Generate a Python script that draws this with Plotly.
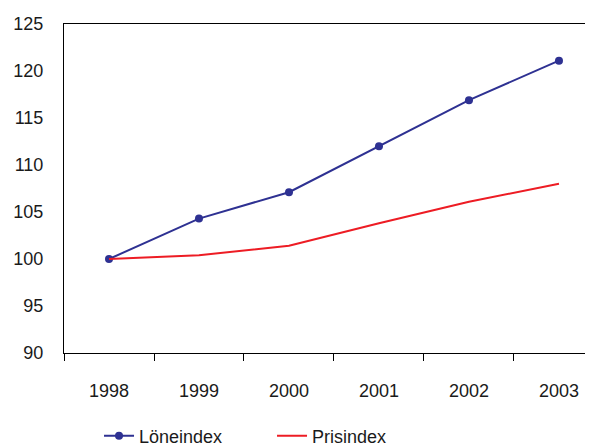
import plotly.graph_objects as go

years = ["1998", "1999", "2000", "2001", "2002", "2003"]
loneindex = [100, 104.3, 107.1, 112.0, 116.9, 121.1]
prisindex = [100, 100.4, 101.4, 103.8, 106.1, 108.0]
y_ticks = [90, 95, 100, 105, 110, 115, 120, 125]

FONT = "Liberation Sans, Arial, sans-serif"

fig = go.Figure()
fig.add_trace(go.Scatter(
    x=years, y=loneindex, name="Löneindex", mode="lines+markers",
    line=dict(color="#2E3192", width=2),
    marker=dict(color="#2E3192", size=8),
))
fig.add_trace(go.Scatter(
    x=years, y=prisindex, name="Prisindex", mode="lines",
    line=dict(color="#ED1C24", width=2),
))

fig.update_layout(
    width=585, height=438,
    margin=dict(l=56, r=0, t=16, b=93),
    paper_bgcolor="white", plot_bgcolor="white",
    font=dict(family=FONT, size=18, color="#1a1a1a"),
    showlegend=True,
    legend=dict(
        orientation="h", xref="container", yref="container",
        x=0.1556, y=0.0228, xanchor="left", yanchor="middle",
        font=dict(family=FONT, size=18, color="#1a1a1a"),
        entrywidth=128, entrywidthmode="pixels",
        itemwidth=30, tracegroupgap=0,
    ),
    xaxis=dict(
        type="category", range=[-0.5, 5.378],
        showline=True, linecolor="black", linewidth=1, mirror=True,
        ticks="outside", tickson="boundaries", ticklen=7, tickcolor="black",
        showgrid=False, zeroline=False, ticklabelstandoff=21,
    ),
    yaxis=dict(
        range=[90, 125], tickvals=y_ticks,
        showline=True, linecolor="black", linewidth=1,
        ticks="", showgrid=False, zeroline=False, ticklabelstandoff=16,
    ),
)

fig.write_html("out.html")
